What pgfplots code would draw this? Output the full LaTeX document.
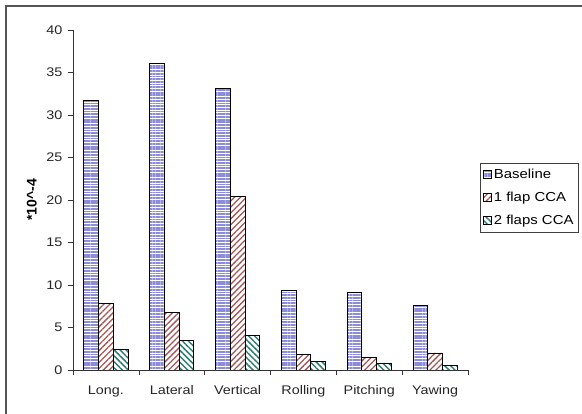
\documentclass[border=0pt]{standalone}
\usepackage{fontspec}
\setmainfont{Liberation Sans}[FakeStretch=1.15]
\newfontfamily\labelfont{Liberation Sans}
\usepackage{pgfplots}
\pgfplotsset{compat=1.18}
\usetikzlibrary{patterns.meta}
\definecolor{baseblue}{RGB}{140,140,215}
\definecolor{flapred}{RGB}{165,85,85}
\definecolor{flapteal}{RGB}{50,125,115}
\definecolor{framegray}{RGB}{85,85,85}
\begin{document}
\begin{tikzpicture}[x=1pt,y=1pt]
\useasboundingbox (0,0) rectangle (582,414);
\draw[framegray, line width=1.4pt] (6,0) -- (6,408) -- (582,408);
\begin{axis}[
  at={(73pt,44pt)}, anchor=south west,
  scale only axis, width=395pt, height=340pt,
  xmin=-0.5, xmax=5.5, ymin=0, ymax=40,
  ytick={0,5,...,40},
  xtick={0,...,5},
  xticklabels={Long.,Lateral,Vertical,Rolling,Pitching,Yawing},
  minor xtick={-0.5,0.5,...,5.5},
  major x tick style={draw=none},
  tick align=outside, major tick length=5pt, minor tick length=5pt,
  axis x line*=bottom, axis y line*=left, axis line style={-, black!80},
  every tick/.style={black!80},
  /pgf/number format/assume math mode=true,
  tick label style={font=\fontsize{12.5}{14}\selectfont, text=black!85},
  xticklabel style={yshift=-7pt},
  yticklabel style={xshift=-2pt},
  ylabel={\labelfont\bfseries *10\textasciicircum-4},
  ylabel style={font=\fontsize{14}{16}\selectfont, at={(axis description cs:-0.104,0.5)}, anchor=center},
  ybar=0pt, bar width=14.7pt,
  legend style={at={(1.0304,0.6088)}, anchor=north west, draw=black!75, font=\fontsize{13}{15}\selectfont, inner xsep=3pt, inner ysep=4pt, row sep=8pt, cells={anchor=west}},
  legend image code/.code={\draw[#1, line width=0.6pt] (0pt,-4pt) rectangle (8pt,4pt);},
]
\addplot[draw=black, line width=0.8pt, fill=white, pattern={Lines[angle=0,distance=2.7pt,line width=1.8pt]}, pattern color=baseblue]
  coordinates {(0,31.7) (1,36.1) (2,33.1) (3,9.4) (4,9.1) (5,7.6)};
\addplot[draw=black, line width=0.8pt, fill=white, pattern={Lines[angle=45,distance=4.2pt,line width=1.3pt]}, pattern color=flapred]
  coordinates {(0,7.85) (1,6.75) (2,20.4) (3,1.85) (4,1.45) (5,2.0)};
\addplot[draw=black, line width=0.8pt, fill=white, pattern={Lines[angle=-45,distance=4.2pt,line width=1.5pt]}, pattern color=flapteal]
  coordinates {(0,2.4) (1,3.45) (2,4.1) (3,0.98) (4,0.82) (5,0.55)};
\legend{Baseline,1 flap CCA,2 flaps CCA}
\end{axis}
\end{tikzpicture}
\end{document}
